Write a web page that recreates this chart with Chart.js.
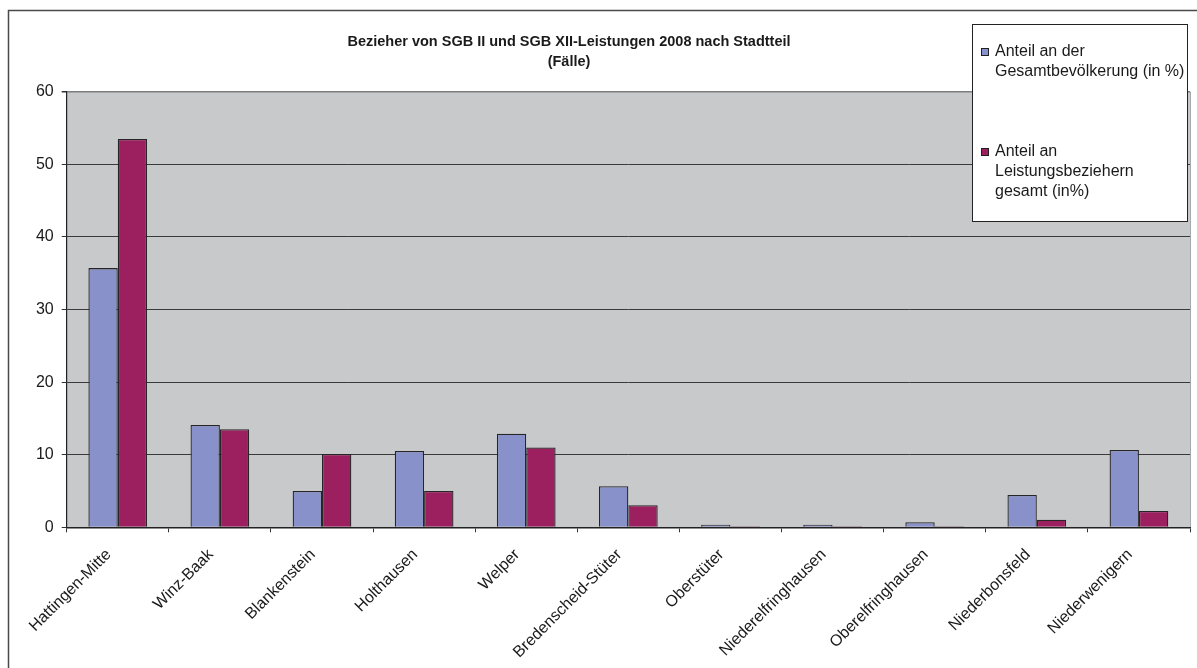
<!DOCTYPE html>
<html lang="de">
<head>
    <meta charset="UTF-8">
    <script src="https://cdn.jsdelivr.net/npm/chart.js@4.4.0/dist/chart.umd.min.js"></script>
    <title>SGB II / SGB XII 2008</title>
    <style>
        body {margin: 0; background: #fff;}
        #wrap {width: 1197px; height: 668px; position: relative;}
    </style>
</head>
<body>
    <div id="wrap">
        <canvas id="chart" width="1197" height="668"></canvas>
    </div>

    <script>
    const districts = ['Hattingen-Mitte', 'Winz-Baak', 'Blankenstein', 'Holthausen', 'Welper',
        'Bredenscheid-Stüter', 'Oberstüter', 'Niederelfringhausen', 'Oberelfringhausen',
        'Niederbonsfeld', 'Niederwenigern'];

    // Anteil an der Gesamtbevölkerung (in %)
    const shareOfPopulation = [35.7, 14.1, 5.0, 10.5, 12.9, 5.65, 0.36, 0.35, 0.7, 4.45, 10.65];
    // Anteil an Leistungsbeziehern gesamt (in %)
    const shareOfRecipients = [53.5, 13.5, 10.1, 5.0, 11.0, 3.05, 0.15, 0.15, 0.15, 1.05, 2.25];

    const seriesNames = ['Anteil an der Gesamtbevölkerung (in %)', 'Anteil an Leistungsbeziehern gesamt (in%)'];
    const legendLines = [['Anteil an der', 'Gesamtbevölkerung (in %)'], ['Anteil an', 'Leistungsbeziehern', 'gesamt (in%)']];
    const titleLines = ['Bezieher von SGB II und SGB XII-Leistungen 2008 nach Stadtteil', '(Fälle)'];
    const yTicks = [0, 10, 20, 30, 40, 50, 60];

    const FONT = '"Liberation Sans", Arial, sans-serif';

    // grey plot background
    const plotBg = {
        id: 'plotBg',
        beforeDraw(chart) {
            const {ctx, chartArea: a} = chart;
            ctx.save();
            ctx.fillStyle = '#c8c9cb';
            ctx.fillRect(a.left, a.top, a.right - a.left, a.bottom - a.top);
            ctx.strokeStyle = '#a9aaad';
            ctx.lineWidth = 1;
            ctx.beginPath();
            ctx.moveTo(a.right + 0.5, a.top);
            ctx.lineTo(a.right + 0.5, a.bottom);
            ctx.stroke();
            ctx.restore();
        }
    };

    // outer frame, title and the boxed legend
    const decorations = {
        id: 'decorations',
        afterDraw(chart) {
            const ctx = chart.ctx;
            ctx.save();
            ctx.strokeStyle = '#4a4a4a';
            ctx.lineWidth = 1.5;
            ctx.strokeRect(8.5, 10.5, 1400, 1000);

            ctx.fillStyle = '#1a1a1a';
            ctx.font = 'bold 14.5px ' + FONT;
            ctx.textAlign = 'center';
            ctx.textBaseline = 'middle';
            ctx.fillText(titleLines[0], 569, 42);
            ctx.fillText(titleLines[1], 569, 62);

            // legend box
            ctx.fillStyle = '#fff';
            ctx.fillRect(972, 24, 215, 197);
            ctx.strokeStyle = '#222';
            ctx.lineWidth = 1;
            ctx.strokeRect(972.5, 24.5, 215, 197);

            ctx.font = '16px ' + FONT;
            ctx.textAlign = 'left';
            const starts = [52, 152];
            chart.data.datasets.forEach((ds, i) => {
                const y0 = starts[i];
                ctx.fillStyle = ds.backgroundColor;
                ctx.fillRect(981, y0 - 4, 8, 8);
                ctx.strokeStyle = '#222';
                ctx.strokeRect(981.5, y0 - 3.5, 7, 7);
                ctx.fillStyle = '#1a1a1a';
                legendLines[i].forEach((line, j) => {
                    ctx.fillText(line, 995, y0 + j * 20);
                });
            });
            ctx.restore();
        }
    };

    const ctx = document.getElementById('chart').getContext('2d');

    const config = {
        type: 'bar',
        data: {
            labels: districts,
            datasets: [{
                label: seriesNames[0],
                data: shareOfPopulation,
                backgroundColor: '#8891c9',
                borderColor: '#262626',
                borderWidth: 1.3,
                borderSkipped: 'bottom'
            }, {
                label: seriesNames[1],
                data: shareOfRecipients,
                backgroundColor: '#9c1f5f',
                borderColor: '#262626',
                borderWidth: 1.3,
                borderSkipped: 'bottom'
            }]
        },
        options: {
            responsive: false,
            animation: false,
            layout: {padding: {left: 8, top: 91.7, right: 7, bottom: 0}},
            datasets: {bar: {categoryPercentage: 0.575, barPercentage: 1}},
            plugins: {
                legend: {display: false},
                title: {display: false},
                tooltip: {enabled: false}
            },
            scales: {
                x: {
                    grid: {
                        offset: true,
                        drawOnChartArea: false,
                        drawTicks: true,
                        tickLength: 5,
                        tickColor: '#333'
                    },
                    border: {color: '#222', width: 1.5},
                    ticks: {
                        color: '#1a1a1a',
                        font: {family: FONT, size: 16},
                        minRotation: 45,
                        maxRotation: 45,
                        autoSkip: false,
                        padding: 13,
                        labelOffset: -9
                    },
                    afterFit(scale) { scale.height = 140.7; }
                },
                y: {
                    min: 0,
                    max: 60,
                    afterBuildTicks(scale) { scale.ticks = yTicks.map(v => ({value: v})); },
                    grid: {
                        color: c => c.tick && c.tick.value === 60 ? '#7d7e80' : '#3a3a3a',
                        lineWidth: c => c.tick && c.tick.value === 60 ? 1.5 : 1,
                        tickLength: 5,
                        tickColor: '#333'
                    },
                    border: {color: '#222', width: 1.2},
                    ticks: {
                        color: '#1a1a1a',
                        font: {family: FONT, size: 16},
                        padding: 8
                    },
                    afterFit(scale) { scale.width = 58.7; }
                }
            }
        },
        plugins: [plotBg, decorations]
    };

    let myChart = new Chart(ctx, config);
    </script>
</body>
</html>
